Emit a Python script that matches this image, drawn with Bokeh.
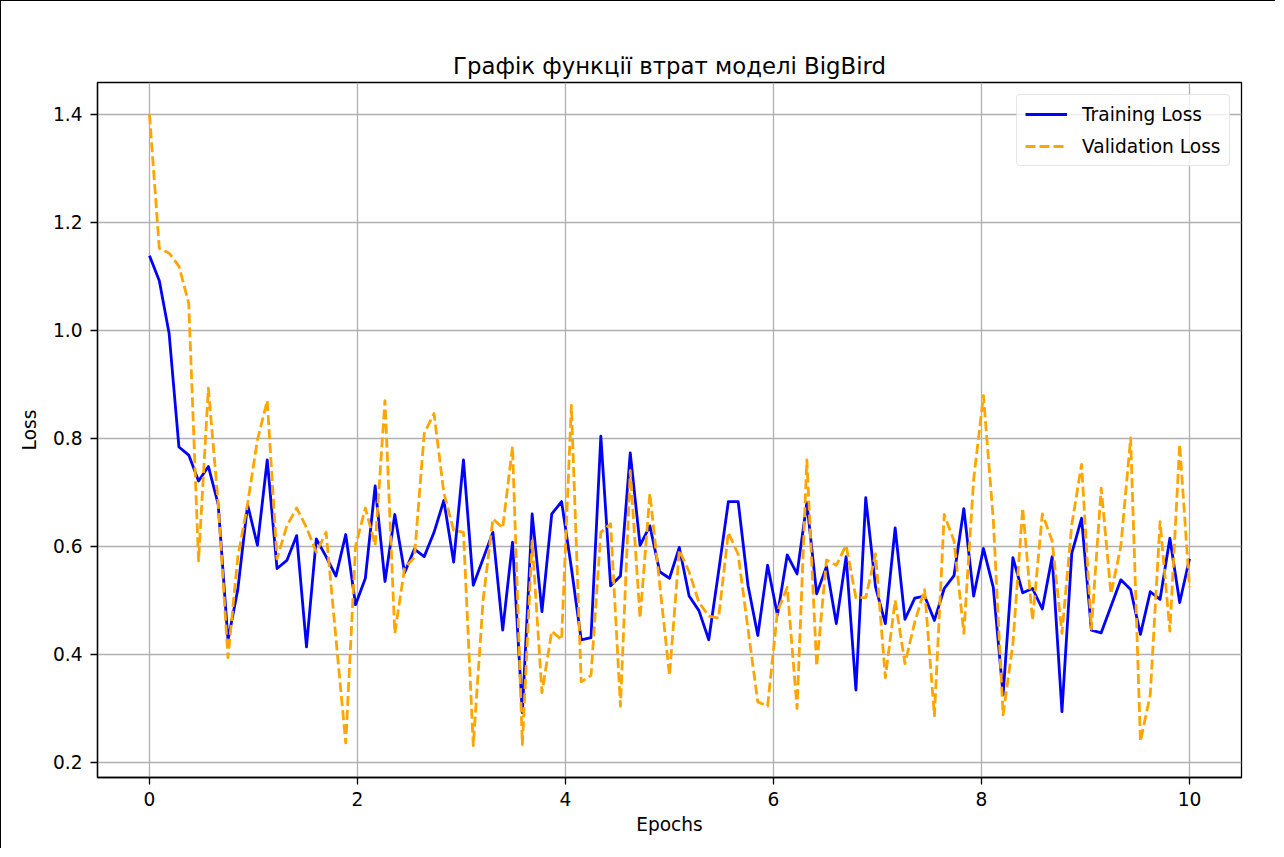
import numpy as np
from bokeh.plotting import figure
from bokeh.models import (ColumnDataSource, FixedTicker, PrintfTickFormatter,
                          Range1d, Legend, LegendItem)
from bokeh.embed import file_html
from bokeh.resources import INLINE

# ---- data ----
n_points = 107
epochs = list(np.linspace(0, 10, n_points))

training_loss = [
    1.138, 1.092, 0.994, 0.784, 0.769, 0.721, 0.748, 0.678, 0.426, 0.520,
    0.677, 0.602, 0.760, 0.559, 0.574, 0.620, 0.414, 0.614, 0.581, 0.545,
    0.622, 0.492, 0.541, 0.712, 0.535, 0.659, 0.551, 0.595, 0.581, 0.626,
    0.685, 0.571, 0.760, 0.528, 0.577, 0.626, 0.445, 0.608, 0.292, 0.660,
    0.479, 0.660, 0.683, 0.560, 0.427, 0.431, 0.804, 0.527, 0.545, 0.773,
    0.602, 0.638, 0.553, 0.541, 0.598, 0.508, 0.481, 0.427, 0.553, 0.683,
    0.683, 0.528, 0.435, 0.565, 0.473, 0.584, 0.549, 0.681, 0.512, 0.563,
    0.457, 0.581, 0.334, 0.690, 0.525, 0.457, 0.634, 0.465, 0.504, 0.508,
    0.463, 0.522, 0.546, 0.670, 0.508, 0.596, 0.524, 0.325, 0.579, 0.514,
    0.522, 0.484, 0.581, 0.294, 0.587, 0.652, 0.445, 0.440, 0.489, 0.538,
    0.520, 0.437, 0.516, 0.502, 0.615, 0.496, 0.577,
]

validation_loss = [
    1.400, 1.152, 1.143, 1.119, 1.050, 0.573, 0.893, 0.680, 0.394, 0.580,
    0.679, 0.797, 0.870, 0.577, 0.638, 0.671, 0.635, 0.589, 0.626, 0.430,
    0.236, 0.600, 0.671, 0.602, 0.870, 0.439, 0.560, 0.580, 0.809, 0.846,
    0.699, 0.630, 0.626, 0.231, 0.500, 0.651, 0.634, 0.785, 0.233, 0.610,
    0.329, 0.443, 0.427, 0.861, 0.349, 0.361, 0.626, 0.642, 0.304, 0.740,
    0.467, 0.698, 0.530, 0.361, 0.593, 0.553, 0.496, 0.471, 0.467, 0.626,
    0.585, 0.447, 0.312, 0.304, 0.479, 0.524, 0.300, 0.760, 0.378, 0.575,
    0.565, 0.602, 0.505, 0.505, 0.586, 0.357, 0.500, 0.383, 0.460, 0.520,
    0.286, 0.659, 0.610, 0.439, 0.724, 0.879, 0.650, 0.288, 0.420, 0.671,
    0.463, 0.660, 0.610, 0.439, 0.640, 0.752, 0.447, 0.708, 0.512, 0.600,
    0.801, 0.239, 0.325, 0.646, 0.443, 0.789, 0.524,
]

x_ticks = [0, 2, 4, 6, 8, 10]
y_ticks = [0.2, 0.4, 0.6, 0.8, 1.0, 1.2, 1.4]

title_text = "Графік функції втрат моделі BigBird"
x_label = "Epochs"
y_label = "Loss"
series_names = ["Training Loss", "Validation Loss"]

FONT = "DejaVu Sans"
FS = "18.6px"

source = ColumnDataSource(dict(x=epochs, train=training_loss, val=validation_loss))

p = figure(width=1275, height=848,
           x_range=Range1d(-0.5, 10.5), y_range=Range1d(0.172, 1.459),
           output_backend="svg", toolbar_location=None,
           min_border_left=96, min_border_right=35,
           min_border_top=81, min_border_bottom=72,
           title=title_text)
p.styles = {"border-left": "1px solid #000", "border-top": "1px solid #000"}
p.background_fill_color = "white"
p.border_fill_color = "white"
p.outline_line_color = "black"
p.outline_line_width = 1.3

p.title.text_font = FONT
p.title.text_font_size = "22.8px"
p.title.text_font_style = "normal"
p.title.text_color = "black"
p.title.align = "center"
p.title.standoff = 8

for ax in (p.xaxis[0], p.yaxis[0]):
    ax.axis_line_color = "black"
    ax.axis_line_width = 1.3
    ax.major_tick_line_color = "black"
    ax.major_tick_line_width = 1.3
    ax.major_tick_in = 0
    ax.major_tick_out = 7
    ax.minor_tick_line_color = None
    ax.major_label_text_font = FONT
    ax.major_label_text_font_size = FS
    ax.major_label_text_color = "black"
    ax.axis_label_text_font = FONT
    ax.axis_label_text_font_size = FS
    ax.axis_label_text_font_style = "normal"
    ax.axis_label_text_color = "black"

p.xaxis[0].ticker = FixedTicker(ticks=x_ticks)
p.xaxis[0].formatter = PrintfTickFormatter(format="%d")
p.xaxis[0].axis_label = x_label
p.xaxis[0].major_label_standoff = 7
p.xaxis[0].axis_label_standoff = 5

p.yaxis[0].ticker = FixedTicker(ticks=y_ticks)
p.yaxis[0].formatter = PrintfTickFormatter(format="%.1f")
p.yaxis[0].axis_label = y_label
p.yaxis[0].major_label_standoff = 8
p.yaxis[0].axis_label_standoff = 10

p.xgrid[0].ticker = FixedTicker(ticks=x_ticks)
p.ygrid[0].ticker = FixedTicker(ticks=y_ticks)
for g in (p.xgrid[0], p.ygrid[0]):
    g.grid_line_color = "#b0b0b0"
    g.grid_line_width = 1.3

r_train = p.line("x", "train", source=source, line_color="#0000ff",
                 line_width=2.8, line_join="round")
r_val = p.line("x", "val", source=source, line_color="#ffa500",
               line_width=2.8, line_dash="10 4", line_join="round")

legend = Legend(items=[LegendItem(label=series_names[0], renderers=[r_train]),
                       LegendItem(label=series_names[1], renderers=[r_val])],
                location=(919, 611))
legend.label_text_font = FONT
legend.label_text_font_size = FS
legend.label_text_color = "black"
legend.border_line_color = "#cccccc"
legend.border_line_width = 1.3
legend.border_radius = 4
legend.background_fill_color = "white"
legend.background_fill_alpha = 0.8
legend.padding = 8
legend.spacing = 10
legend.margin = 0
legend.glyph_width = 42
legend.glyph_height = 22
legend.label_height = 22
legend.label_standoff = 15
p.add_layout(legend, "center")

open("out.html", "w").write(file_html(p, INLINE))
